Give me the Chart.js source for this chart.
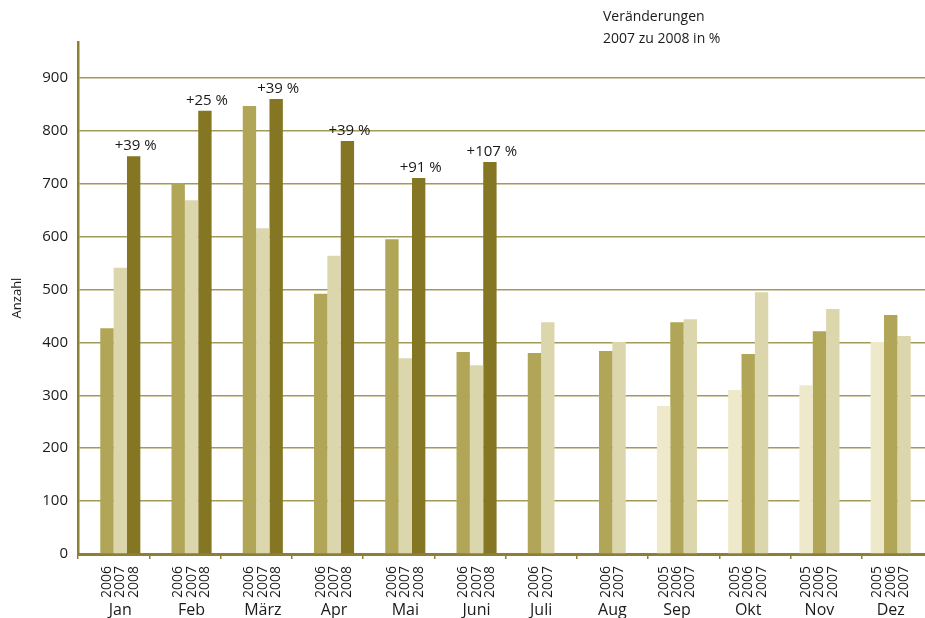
<!DOCTYPE html>
<html>
<head>
<meta charset="utf-8">
<script src="https://cdn.jsdelivr.net/npm/chart.js@4"></script>
<style>
  html, body { margin: 0; padding: 0; background: #fff; overflow: hidden; }
  #chart { display: block; }
</style>
</head>
<body>
<canvas id="chart" width="933" height="618"></canvas>
<script>
// Monate
const months = ['Jan', 'Feb', 'März', 'Apr', 'Mai', 'Juni', 'Juli', 'Aug', 'Sep', 'Okt', 'Nov', 'Dez'];
const years = ['2005', '2006', '2007', '2008'];

// Anzahl je Jahr (null = kein Balken)
const values2005 = [null, null, null, null, null, null, null, null, 280, 310, 319, 401];
const values2006 = [427, 701, 847, 492, 595, 382, 380, 384, 438, 378, 421, 452];
const values2007 = [541, 669, 616, 564, 370, 357, 438, 401, 444, 495, 463, 412];
const values2008 = [752, 838, 860, 781, 711, 741, null, null, null, null, null, null];

// Veränderungen 2007 zu 2008
const changeLabels = ['+39 %', '+25 %', '+39 %', '+39 %', '+91 %', '+107 %', '', '', '', '', '', ''];

const yTicks = [0, 100, 200, 300, 400, 500, 600, 700, 800, 900];

const colors = ['#efe9cb', '#b1a657', '#dcd6ac', '#847622'];
const gridColor = '#a39a58';
const axisColor = '#8c8036';

Chart.defaults.font.family = "'Open Sans', sans-serif";
Chart.defaults.color = '#1a1a1a';

// Jahreszahlen senkrecht unter den Balken, Monatsnamen darunter
const categoryLabelsPlugin = {
    id: 'categoryLabels',
    afterDraw(chart) {
        const ctx = chart.ctx;
        ctx.save();
        ctx.fillStyle = '#1a1a1a';
        months.forEach(function(month, i) {
            let xs = [];
            chart.data.datasets.forEach(function(ds, d) {
                if (ds.data[i] === null) return;
                const bar = chart.getDatasetMeta(d).data[i];
                xs.push(bar.x);
                ctx.save();
                ctx.font = "14px 'Open Sans', sans-serif";
                ctx.textAlign = 'left';
                ctx.textBaseline = 'middle';
                ctx.translate(bar.x, 598);
                ctx.rotate(-Math.PI / 2);
                ctx.fillText(years[d], 0, 0);
                ctx.restore();
            });
            const cx = (Math.min.apply(null, xs) + Math.max.apply(null, xs)) / 2;
            ctx.font = "16px 'Open Sans', sans-serif";
            ctx.textAlign = 'center';
            ctx.textBaseline = 'alphabetic';
            ctx.fillText(month, cx, 615);
        });
        ctx.restore();
    }
};

// Prozentangaben über den 2008-Balken und Überschrift
const changePlugin = {
    id: 'changeLabels',
    afterDatasetsDraw(chart) {
        const ctx = chart.ctx;
        const meta = chart.getDatasetMeta(3);
        ctx.save();
        ctx.font = "15px 'Open Sans', sans-serif";
        ctx.fillStyle = '#1a1a1a';
        ctx.textAlign = 'center';
        ctx.textBaseline = 'bottom';
        changeLabels.forEach(function(txt, i) {
            if (!txt) return;
            const bar = meta.data[i];
            ctx.fillText(txt, bar.x + 2, bar.y - 3);
        });
        ctx.font = "14px 'Open Sans', sans-serif";
        ctx.textAlign = 'left';
        ctx.textBaseline = 'middle';
        ctx.fillText('Veränderungen', 603, 17);
        ctx.fillText('2007 zu 2008 in %', 603, 39);
        ctx.restore();
    }
};

new Chart(document.getElementById('chart'), {
    type: 'bar',
    data: {
        labels: months,
        datasets: [values2005, values2006, values2007, values2008].map(function(vals, d) {
            return {
                label: years[d],
                data: vals,
                backgroundColor: colors[d],
                borderWidth: 0,
                categoryPercentage: 0.75,
                barPercentage: 1.0,
                skipNull: false
            };
        })
    },
    options: {
        responsive: false,
        animation: false,
        layout: { padding: { top: 42, left: 0, right: 0, bottom: 0 } },
        plugins: {
            legend: { display: false },
            tooltip: { enabled: false }
        },
        scales: {
            x: {
                grid: {
                    offset: true,
                    drawOnChartArea: false,
                    drawTicks: true,
                    tickLength: 5,
                    color: axisColor,
                    lineWidth: 1.5
                },
                border: { color: axisColor, width: 3 },
                ticks: { display: false },
                afterFit(scale) {
                    scale.height = 64;
                    scale.paddingLeft = 0;
                    scale.paddingRight = 0;
                }
            },
            y: {
                min: 0,
                max: 968,
                ticks: {
                    stepSize: 100,
                    padding: 10,
                    font: { size: 15 },
                    color: '#1a1a1a'
                },
                afterBuildTicks(scale) {
                    scale.ticks = yTicks.map(function(v) { return { value: v }; });
                },
                grid: {
                    color: gridColor,
                    lineWidth: 1.5,
                    drawTicks: false
                },
                border: { color: axisColor, width: 2.5 },
                title: {
                    display: true,
                    text: 'Anzahl',
                    font: { size: 13 },
                    color: '#1a1a1a',
                    padding: { top: 9, bottom: 0 }
                },
                afterFit(scale) { scale.width = 78; }
            }
        }
    },
    plugins: [categoryLabelsPlugin, changePlugin]
});
</script>
</body>
</html>
